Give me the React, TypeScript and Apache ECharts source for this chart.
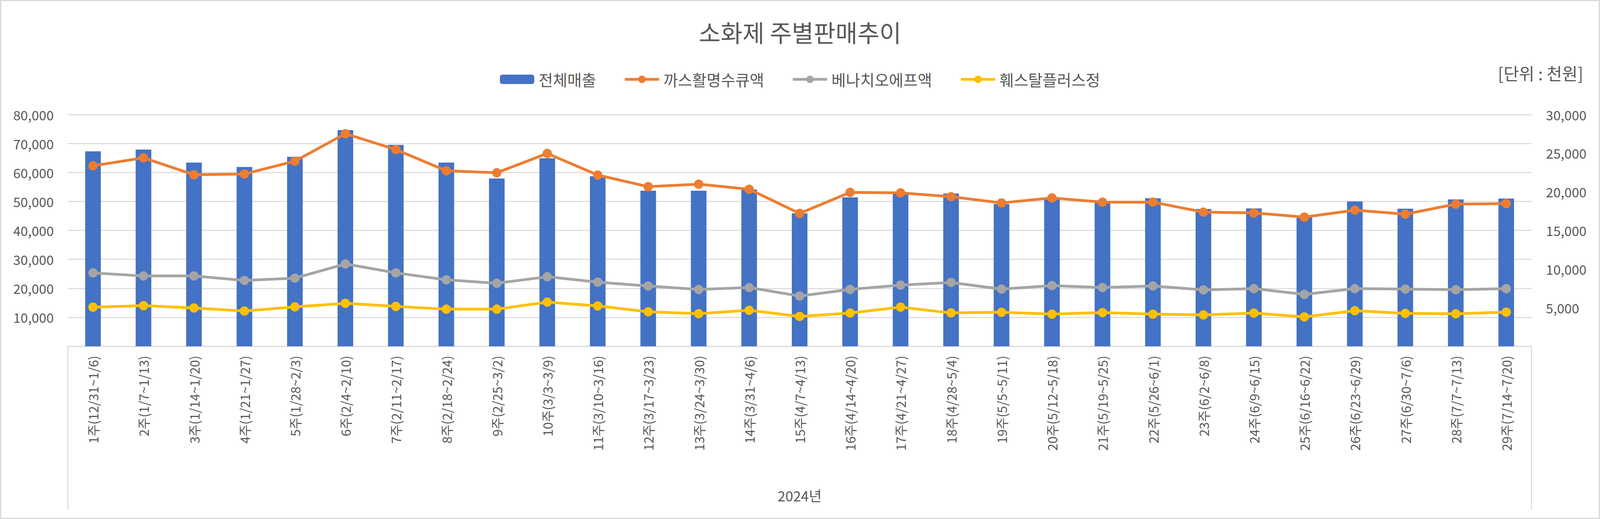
import React, { useEffect, useRef } from "react";
import * as echarts from "echarts";

const categories = [
  "1주(12/31~1/6)", "2주(1/7~1/13)", "3주(1/14~1/20)", "4주(1/21~1/27)", "5주(1/28~2/3)",
  "6주(2/4~2/10)", "7주(2/11~2/17)", "8주(2/18~2/24)", "9주(2/25~3/2)", "10주(3/3~3/9)",
  "11주(3/10~3/16)", "12주(3/17~3/23)", "13주(3/24~3/30)", "14주(3/31~4/6)", "15주(4/7~4/13)",
  "16주(4/14~4/20)", "17주(4/21~4/27)", "18주(4/28~5/4)", "19주(5/5~5/11)", "20주(5/12~5/18)",
  "21주(5/19~5/25)", "22주(5/26~6/1)", "23주(6/2~6/8)", "24주(6/9~6/15)", "25주(6/16~6/22)",
  "26주(6/23~6/29)", "27주(6/30~7/6)", "28주(7/7~7/13)", "29주(7/14~7/20)",
];

const totalSales = [
  67300, 67900, 63400, 61900, 65400, 74600, 69500, 63400, 57900, 64900,
  58700, 53700, 53700, 54100, 45900, 51400, 52800, 52700, 49100, 50700,
  49800, 51100, 47400, 47600, 44800, 50000, 47500, 50700, 51000,
];

const gasHwal = [
  23360, 24400, 22200, 22300, 23960, 27520, 25460, 22720, 22460, 24960,
  22160, 20660, 20980, 20320, 17200, 19920, 19860, 19360, 18560, 19200,
  18660, 18660, 17360, 17260, 16720, 17620, 17100, 18400, 18460,
];

const benachio = [
  9500, 9100, 9100, 8520, 8820, 10660, 9500, 8600, 8160, 9000,
  8300, 7800, 7360, 7600, 6500, 7360, 7920, 8260, 7400, 7860,
  7600, 7800, 7300, 7460, 6720, 7460, 7400, 7320, 7460,
];

const hwesstal = [
  5060, 5260, 4960, 4560, 5100, 5560, 5160, 4800, 4800, 5720,
  5220, 4460, 4220, 4660, 3860, 4300, 5060, 4320, 4400, 4160,
  4360, 4160, 4060, 4300, 3800, 4600, 4260, 4200, 4420,
];

const leftTicks = { min: 0, max: 80000, interval: 10000 };
const rightTicks = { min: 0, max: 30000, interval: 5000 };

const seriesNames = ["전체매출", "까스활명수큐액", "베나치오에프액", "훼스탈플러스정"];
const seriesColors = ["#4472C4", "#ED7D31", "#A5A5A5", "#FFC000"];

const FONT = "'Noto Sans CJK KR', 'Noto Sans', sans-serif";
const TEXT = "#595959";
const GRIDC = "#D9D9D9";

export default function App() {
  const ref = useRef<HTMLDivElement>(null);

  useEffect(() => {
    document.body.style.margin = "0";
    if (!ref.current) return;
    const chart = echarts.init(ref.current, undefined, { renderer: "svg" });
    const W = 4096;
    const H = 1328;
    const sx = W / 4320;
    const gl = 183 * sx;
    const gr = 4135 * sx;
    const gb = 886;
    const fmt = (v: number) => v.toLocaleString("en-US");

    const lineSeries = [gasHwal, benachio, hwesstal].map((d, i) => ({
      name: seriesNames[i + 1],
      type: "line",
      yAxisIndex: 1,
      data: d,
      symbol: "circle",
      symbolSize: 24,
      lineStyle: { width: 7, color: seriesColors[i + 1] },
      itemStyle: { color: seriesColors[i + 1] },
      z: 3 + i,
    }));

    chart.setOption({
      animation: false,
      backgroundColor: "#fff",
      textStyle: { fontFamily: FONT },
      title: {
        text: "소화제 주별판매추이",
        left: "center",
        top: 46,
        textStyle: { fontFamily: FONT, fontSize: 61, fontWeight: "normal", color: TEXT },
      },
      legend: {
        data: seriesNames,
        left: "center",
        top: 178,
        itemWidth: 88,
        itemHeight: 24,
        itemGap: 70,
        lineStyle: { width: 7 },
        textStyle: { fontFamily: FONT, fontSize: 40, color: TEXT, padding: [0, 0, 0, 6] },
      },
      grid: { left: gl, right: W - gr, top: 293, bottom: H - gb, containLabel: false },
      xAxis: {
        type: "category",
        data: categories,
        axisLine: { show: true, lineStyle: { color: GRIDC, width: 3 } },
        axisTick: { show: false },
        axisLabel: {
          rotate: 90,
          interval: 0,
          margin: 24,
          fontFamily: FONT,
          fontSize: 33,
          color: TEXT,
        },
      },
      yAxis: [
        {
          type: "value",
          ...leftTicks,
          axisLine: { show: false },
          axisTick: { show: false },
          splitLine: { lineStyle: { color: GRIDC, width: 2.5 } },
          axisLabel: {
            showMinLabel: false,
            formatter: fmt,
            margin: 36,
            fontFamily: FONT,
            fontSize: 34,
            color: TEXT,
          },
        },
        {
          type: "value",
          ...rightTicks,
          position: "right",
          axisLine: { show: false },
          axisTick: { show: false },
          splitLine: { show: false },
          axisLabel: {
            showMinLabel: false,
            formatter: fmt,
            margin: 37,
            fontFamily: FONT,
            fontSize: 34,
            color: TEXT,
          },
        },
      ],
      series: [
        {
          name: seriesNames[0],
          type: "bar",
          yAxisIndex: 0,
          data: totalSales,
          barWidth: 40,
          itemStyle: { color: seriesColors[0] },
          z: 2,
        },
        ...lineSeries,
      ],
      graphic: [
        {
          type: "rect",
          shape: { x: 1.5, y: 1.5, width: W - 3, height: H - 3 },
          style: { fill: "none", stroke: GRIDC, lineWidth: 3 },
          silent: true,
        },
        {
          type: "line",
          shape: { x1: gl, y1: gb, x2: gl, y2: 1303 },
          style: { stroke: GRIDC, lineWidth: 2.5 },
          silent: true,
        },
        {
          type: "line",
          shape: { x1: gr, y1: gb, x2: gr, y2: 1303 },
          style: { stroke: GRIDC, lineWidth: 2.5 },
          silent: true,
        },
        {
          type: "text",
          x: (gl + gr) / 2,
          y: 1267,
          style: {
            text: "2024년",
            fontFamily: FONT,
            fontSize: 36,
            fill: TEXT,
            align: "center",
            verticalAlign: "middle",
          },
          silent: true,
        },
        {
          type: "text",
          x: 4053,
          y: 186,
          style: {
            text: "[단위 : 천원]",
            fontFamily: FONT,
            fontSize: 43,
            fill: TEXT,
            align: "right",
            verticalAlign: "middle",
          },
          silent: true,
        },
      ],
    });

    return () => chart.dispose();
  }, []);

  return <div ref={ref} style={{ width: 4096, height: 1328 }} />;
}
